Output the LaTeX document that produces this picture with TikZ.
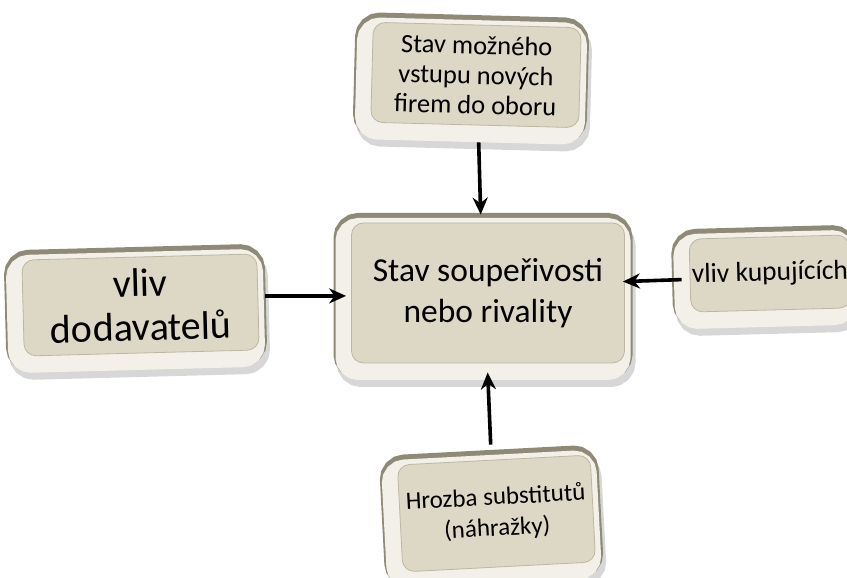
\documentclass[tikz,border=0pt]{standalone}
\usepackage{fontspec}
\setmainfont{Carlito}
\usetikzlibrary{arrows.meta,calc}
\definecolor{face}{HTML}{DDD7C5}
\definecolor{faceedge}{HTML}{BDB6A2}
\definecolor{rimdark}{HTML}{8F8A77}
\definecolor{rimlight}{HTML}{F2F0E8}
\tikzset{
  box/.style={rounded corners=12pt, fill=face, draw=faceedge, line width=0.8pt,
    inner sep=0pt, align=center, text=black,
    preaction={draw=black!45, fill=black!45, opacity=0.35, line width=26pt,
      transform canvas={xshift=-2pt,yshift=-11pt}},
    preaction={draw=rimdark, fill=rimdark, line width=26pt,
      transform canvas={xshift=-5pt,yshift=-3pt}},
    preaction={draw=rimlight, fill=rimlight, line width=22pt,
      transform canvas={xshift=-5pt,yshift=-6pt}}},
  arr/.style={line width=3.6pt, draw=black, -{Stealth[length=17pt,width=15pt]}}
}
\begin{document}
\begin{tikzpicture}[x=1pt,y=1pt]
\useasboundingbox (0,0) rectangle (847,578);
\clip (0,0) rectangle (847,578);
\node[box, minimum width=208pt, minimum height=100pt, rotate=-1.5,
  font=\fontsize{26.5}{30}\selectfont] (top) at (476,503)
  {Stav možného\\vstupu nových\\firem do oboru};
\node[box, minimum width=235pt, minimum height=96pt, rotate=1.5,
  font=\fontsize{40}{44}\selectfont] (left) at (140.5,273)
  {vliv\\dodavatelů};
\node[box, minimum width=273pt, minimum height=140pt,
  font=\fontsize{33.5}{41}\selectfont] (center) at (488,285)
  {Stav soupeřivosti\\nebo rivality};
\node[box, minimum width=160pt, minimum height=73pt, rotate=1.5,
  font=\fontsize{27.5}{31}\selectfont] (right) at (770,304.5)
  {vliv kupujících};
\node[box, minimum width=193pt, minimum height=107pt, rotate=3,
  font=\fontsize{25}{31}\selectfont] (bottom) at (496.5,64.5)
  {Hrozba substitutů\\(náhražky)};
\draw[arr] ($(top.south)+(4pt,-17pt)$) -- ($(top.south |- center.north)+(6pt,8pt)$);
\draw[arr] ($(left.east)+(7pt,6pt)$) -- ($(left.east -| center.west)+(-5pt,6pt)$);
\draw[arr] ($(right.west)+(-8pt,-4pt)$) -- ($(right.west -| center.east)+(-2pt,-6pt)$);
\draw[arr] ($(bottom.north)+(-3pt,15pt)$) -- ($(bottom.north |- center.south)+(-6pt,-9pt)$);
\end{tikzpicture}
\end{document}
